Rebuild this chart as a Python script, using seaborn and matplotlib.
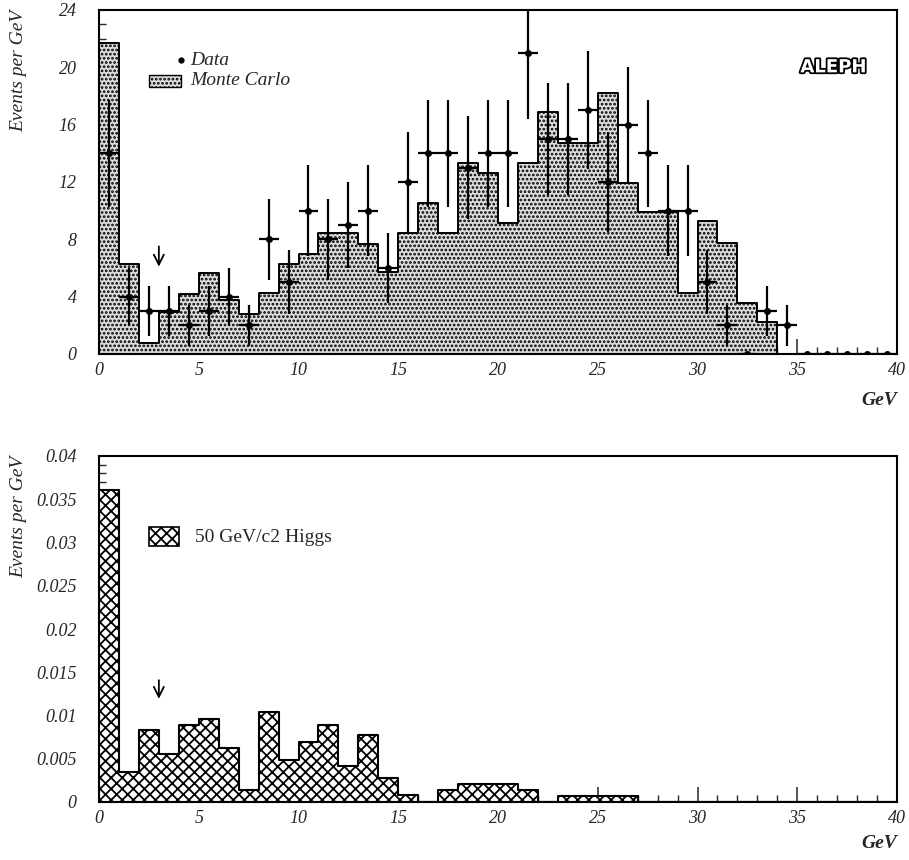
import numpy as np
import pandas as pd
import matplotlib
matplotlib.use("Agg")
import matplotlib.pyplot as plt
import seaborn as sns
import matplotlib.patheffects as pe
from matplotlib.patches import Rectangle
from matplotlib.ticker import MultipleLocator, FuncFormatter

# ---------------- data ----------------
bin_edges = list(range(0, 41))
bin_centers = [i + 0.5 for i in range(40)]

mc_values = [21.7, 6.3, 0.75, 2.95, 4.2, 5.65, 3.8, 2.8, 4.25, 6.3,
             7.0, 8.45, 8.45, 7.7, 5.75, 8.45, 10.5, 8.45, 13.3, 12.65,
             9.15, 13.3, 16.85, 14.75, 14.75, 18.2, 11.95, 9.9, 9.9, 4.25,
             9.25, 7.75, 3.55, 2.2, 0, 0, 0, 0, 0, 0]

data_values = [14, 4, 3, 3, 2, 3, 4, 2, 8, 5,
               10, 8, 9, 10, 6, 12, 14, 14, 13, 14,
               14, 21, 15, 15, 17, 12, 16, 14, 10, 10,
               5, 2, 0, 3, 2, 0, 0, 0, 0, 0]

higgs_values = [0.0361, 0.0035, 0.0083, 0.0055, 0.0089, 0.0096, 0.0062, 0.0014, 0.0104, 0.0048,
                0.0069, 0.0089, 0.0042, 0.0077, 0.0028, 0.0008, 0.0, 0.0014, 0.0021, 0.0021,
                0.0021, 0.0014, 0.0, 0.0007, 0.0007, 0.0007, 0.0007, 0.0, 0.0, 0.0,
                0.0, 0.0, 0.0, 0.0, 0.0, 0.0, 0.0, 0.0, 0.0, 0.0]

top_yticks = [0, 4, 8, 12, 16, 20, 24]
bot_yticks = [0, 0.005, 0.01, 0.015, 0.02, 0.025, 0.03, 0.035, 0.04]
xticks = [0, 5, 10, 15, 20, 25, 30, 35, 40]

# ---------------- style ----------------
sns.set_style("ticks")
plt.rcParams["font.family"] = ["Liberation Serif", "DejaVu Serif"]
plt.rcParams["hatch.color"] = "black"
plt.rcParams["hatch.linewidth"] = 1.3

fig = plt.figure(figsize=(9.09, 8.6), dpi=100)
W, H = 909, 860
ax1 = fig.add_axes([99 / W, 1 - 354 / H, 798 / W, 344 / H])
ax2 = fig.add_axes([99 / W, 1 - 802 / H, 798 / W, 346 / H])

df_mc = pd.DataFrame({"E": bin_centers, "w": mc_values})
df_h = pd.DataFrame({"E": bin_centers, "w": higgs_values})
df_d = pd.DataFrame({"E": bin_centers, "n": data_values})
df_d["err"] = np.sqrt(df_d["n"])

MC_FACE = "#dcdcdc"

# ---------------- top panel ----------------
sns.histplot(data=df_mc, x="E", weights="w", bins=bin_edges, element="step",
             fill=True, ax=ax1, facecolor=MC_FACE, edgecolor="black",
             linewidth=1.4, alpha=1)
for c in ax1.collections:
    c.set_hatch("....")
    c.set_facecolor(MC_FACE)
    c.set_edgecolor("black")

ax1.errorbar(df_d["E"], df_d["n"], xerr=0.5, yerr=df_d["err"], fmt="o",
             ms=4, color="black", elinewidth=1.6, capsize=0, zorder=5)

ax1.annotate("", xy=(3, 5.9), xytext=(3, 7.7),
             arrowprops=dict(arrowstyle="->", lw=1.3, color="black", mutation_scale=18))

# legend (drawn in data coordinates of the fixed axes)
ax1.plot([4.1], [20.5], "o", color="black", ms=3.5)
ax1.text(4.55, 20.5, "Data", fontsize=14, style="italic", va="center", ha="left")
ax1.add_patch(Rectangle((2.5, 18.65), 1.6, 0.8, facecolor=MC_FACE,
                        edgecolor="black", hatch="....", lw=1.0))
ax1.text(4.55, 19.05, "Monte Carlo", fontsize=14, style="italic", va="center", ha="left")

ax1.text(36.8, 20.0, "ALEPH", fontsize=13, fontweight="bold", family="DejaVu Sans",
         color="white", ha="center", va="center",
         path_effects=[pe.withStroke(linewidth=2.6, foreground="black")])

ax1.set_xlim(0, 40)
ax1.set_ylim(0, 24)
ax1.set_yticks(top_yticks)
ax1.yaxis.set_minor_locator(MultipleLocator(1))

# ---------------- bottom panel ----------------
sns.histplot(data=df_h, x="E", weights="w", bins=bin_edges, element="step",
             fill=True, ax=ax2, facecolor="white", edgecolor="black",
             linewidth=1.5, alpha=1)
for c in ax2.collections:
    c.set_hatch("xxx")
    c.set_facecolor("white")
    c.set_edgecolor("black")

ax2.annotate("", xy=(3, 0.0116), xytext=(3, 0.0144),
             arrowprops=dict(arrowstyle="->", lw=1.3, color="black", mutation_scale=18))

ax2.add_patch(Rectangle((2.5, 0.0296), 1.5, 0.0022, facecolor="white",
                        edgecolor="black", hatch="xxx", lw=1.2))
ax2.text(4.8, 0.0306, "50 GeV/c2 Higgs", fontsize=14, va="center", ha="left")

ax2.set_xlim(0, 40)
ax2.set_ylim(0, 0.04)
ax2.set_yticks(bot_yticks)
ax2.yaxis.set_minor_locator(MultipleLocator(0.001))
ax2.yaxis.set_major_formatter(FuncFormatter(lambda v, p: "0" if v == 0 else ("%g" % v)))

# ---------------- common axis styling ----------------
for ax in (ax1, ax2):
    ax.set_xticks(xticks)
    ax.xaxis.set_minor_locator(MultipleLocator(1))
    ax.tick_params(axis="both", which="major", direction="in", length=11, width=1.1,
                   labelsize=13, top=False, right=False)
    ax.tick_params(axis="both", which="minor", direction="in", length=5, width=1.0,
                   top=False, right=False)
    ax.tick_params(axis="x", which="major", pad=6)
    ax.tick_params(axis="y", which="major", pad=16)
    for lab in ax.get_xticklabels() + ax.get_yticklabels():
        lab.set_fontstyle("italic")
    for s in ax.spines.values():
        s.set_visible(True)
        s.set_linewidth(1.5)
        s.set_color("black")
    ax.set_ylabel("Events per GeV", loc="top", fontsize=14, style="italic")
    ax.set_xlabel("GeV", loc="right", fontsize=14, style="italic", fontweight="bold")

ax1.yaxis.set_label_coords(-0.090, 1.0)
ax2.yaxis.set_label_coords(-0.090, 1.0)
ax1.xaxis.set_label_coords(1.0, -0.11)
ax2.xaxis.set_label_coords(1.0, -0.095)

fig.savefig("out.png", dpi=100)
